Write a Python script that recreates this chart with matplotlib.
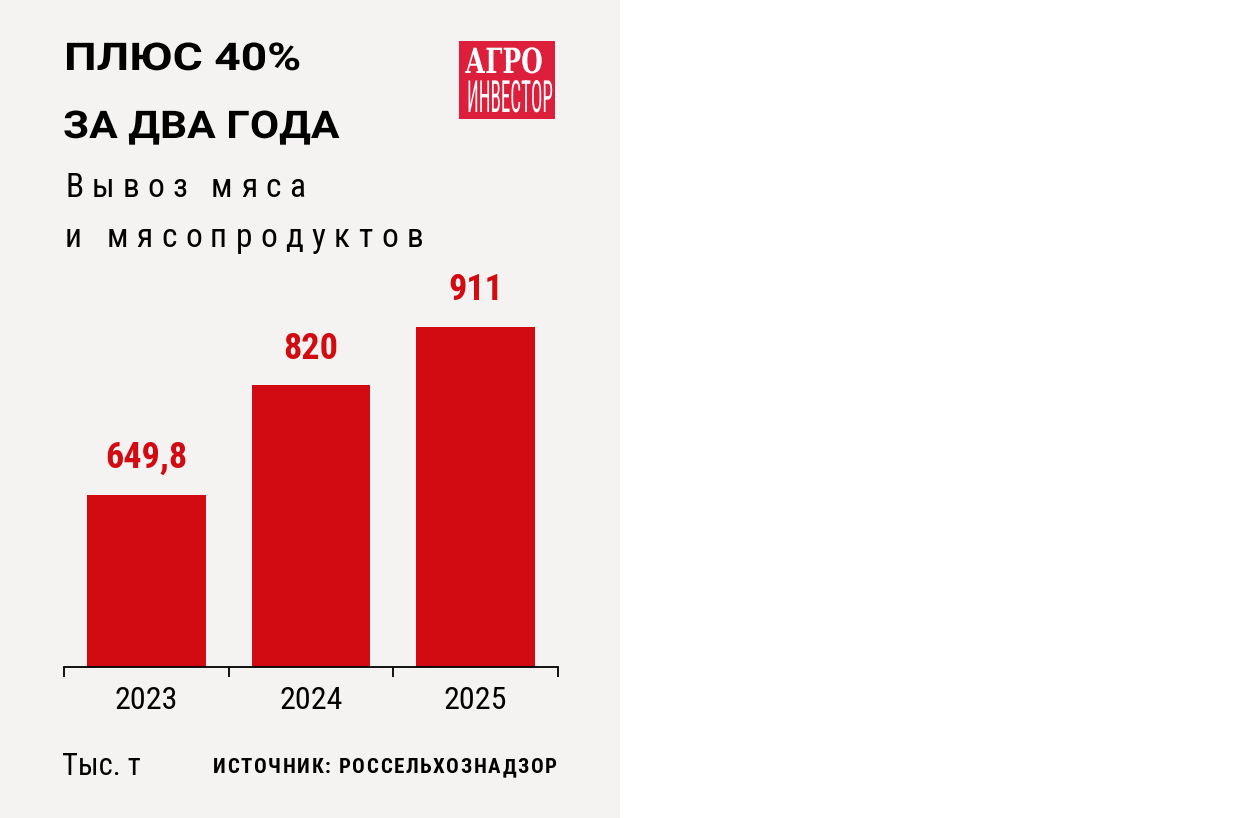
import matplotlib
matplotlib.use("Agg")
import matplotlib.pyplot as plt
from matplotlib import font_manager
from matplotlib.transforms import Affine2D
from matplotlib.patches import Rectangle
from matplotlib.patheffects import AbstractPathEffect

# ---- data ----
years = ["2023", "2024", "2025"]
values = [649.8, 820, 911]
value_labels = ["649,8", "820", "911"]
title_lines = ["ПЛЮС 40%", "ЗА ДВА ГОДА"]
subtitle_lines = ["Вывоз мяса", "и мясопродуктов"]
unit_text = "Тыс. т"
source_text = "ИСТОЧНИК: РОССЕЛЬХОЗНАДЗОР"
logo_top = "АГРО"
logo_bottom = "ИНВЕСТОР"

W, H = 1238, 818
BG = "#f4f3f1"
RED = "#d20a11"
LOGO_RED = "#dd1f3b"

avail = {f.name for f in font_manager.fontManager.ttflist}
def pick(cands):
    for c in cands:
        if c in avail:
            return c
    return "DejaVu Sans"
COND = pick(["Roboto Condensed", "Liberation Sans Narrow", "Open Sans Condensed", "Roboto"])
WIDE = pick(["Roboto", "Open Sans", "Noto Sans"])
SERIF = pick(["DejaVu Serif", "Liberation Serif"])


class XScale(AbstractPathEffect):
    """Scale glyph outlines horizontally around the text origin."""
    def __init__(self, sx):
        super().__init__()
        self.sx = sx

    def draw_path(self, renderer, gc, tpath, affine, rgbFace=None):
        renderer.draw_path(gc, tpath, Affine2D().scale(self.sx, 1) + affine, rgbFace)


fig = plt.figure(figsize=(W / 100, H / 100), dpi=100)
fig.patch.set_facecolor("white")
PX = Affine2D().scale(1, -1).translate(0, H)  # pixel coords, y from top

fig.patches.append(Rectangle((0, 0), 620, H, transform=PX, facecolor=BG,
                             edgecolor="none", zorder=-10))

renderer = fig.canvas.get_renderer()


def measure(s, size, family, weight):
    t = fig.text(0, 0, s, fontsize=size, family=family, weight=weight)
    w = t.get_window_extent(renderer).width
    t.remove()
    return w


def spaced(x, y, s, size, width, family=COND, weight="normal", color="black"):
    """Draw text char-by-char with spacing fitted to a target pixel width."""
    sp_w = measure("a a", size, family, weight) - measure("aa", size, family, weight)
    ws = [sp_w if ch == " " else measure(ch, size, family, weight) for ch in s]
    gap = (width - sum(ws)) / (len(s) - 1)
    cx = x
    for ch, w in zip(s, ws):
        if ch != " ":
            fig.text(cx, y, ch, fontsize=size, family=family, weight=weight,
                     color=color, transform=PX, ha="left", va="baseline")
        cx += w + gap


def fitted(x, y, s, size, width, family, weight="normal", color="black"):
    """Draw a text scaled horizontally to a target pixel width."""
    w = measure(s, size, family, weight)
    fig.text(x, y, s, fontsize=size, family=family, weight=weight, color=color,
             transform=PX, ha="left", va="baseline",
             path_effects=[XScale(width / w)])


# ---- titles ----
fitted(64, 70, title_lines[0], 27.5, 238, family=WIDE, weight="bold")
fitted(63, 138, title_lines[1], 27.5, 277, family=WIDE, weight="bold")
spaced(65, 197, subtitle_lines[0], 24, 240)
spaced(65, 247, subtitle_lines[1], 24, 358)

# ---- logo ----
fig.patches.append(Rectangle((459, 41), 96, 78, transform=PX, facecolor=LOGO_RED,
                             edgecolor="none", zorder=1))
fitted(465, 73, logo_top, 25, 78, family=SERIF, weight="bold", color="white")
fitted(467, 112, logo_bottom, 32, 86, family=COND, weight="normal", color="white")

# ---- chart ----
ax = fig.add_axes([64 / W, (H - 667) / H, 494 / W, 397 / H])
ax.set_facecolor("none")
x = list(range(len(years)))
ax.bar(x, values, width=0.72, color=RED, zorder=2)
ax.set_xlim(-0.5, 2.5)
ax.set_ylim(382, 999)
for s in ["top", "left", "right"]:
    ax.spines[s].set_visible(False)
ax.spines["bottom"].set_linewidth(1.3)
ax.spines["bottom"].set_zorder(3)
ax.set_yticks([])
ax.set_xticks(x)
ax.set_xticklabels(years, fontsize=23, family=COND)
ax.tick_params(axis="x", which="major", length=0, pad=14)
ax.set_xticks([-0.5, 0.5, 1.5, 2.5], minor=True)
ax.tick_params(axis="x", which="minor", length=7.5, width=1.3, direction="out")

for xi, v, lab in zip(x, values, value_labels):
    ax.annotate(lab, (xi, v), xytext=(0, 19), textcoords="offset points",
                ha="center", va="baseline", fontsize=26, weight="bold",
                family=COND, color=RED)

# ---- footer ----
fig.text(62, 775, unit_text, fontsize=22, family=COND, transform=PX,
         ha="left", va="baseline")
spaced(213, 773, source_text, 15, 344, weight="bold")

fig.savefig("out.png", dpi=100, facecolor=fig.get_facecolor())
